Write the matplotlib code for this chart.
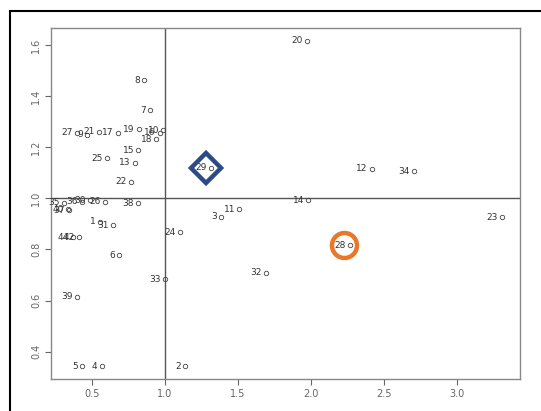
import matplotlib.pyplot as plt
from matplotlib.patches import Rectangle

# Punkter: nummer, x og y
nummer = [20, 8, 7, 19, 10, 16, 18, 27, 9, 21, 17, 15, 25, 13, 22,
          29, 12, 34, 14, 11, 3, 23, 24, 28, 32, 33, 6, 39, 5, 4, 2,
          38, 26, 30, 36, 35, 37, 40, 1, 31, 44, 42]
x_verdier = [1.974, 0.856, 0.898, 0.823, 0.988, 0.965, 0.941, 0.397, 0.470, 0.546, 0.676, 0.818, 0.603, 0.794, 0.768,
             1.317, 2.416, 2.704, 1.981, 1.508, 1.385, 3.307, 1.104, 2.267, 1.690, 1.000, 0.688, 0.397, 0.433, 0.567, 1.137,
             0.813, 0.589, 0.487, 0.435, 0.310, 0.345, 0.340, 0.558, 0.643, 0.370, 0.411]
y_verdier = [1.617, 1.462, 1.344, 1.270, 1.266, 1.257, 1.231, 1.257, 1.248, 1.261, 1.257, 1.189, 1.157, 1.140, 1.065,
             1.119, 1.115, 1.106, 0.992, 0.957, 0.927, 0.926, 0.868, 0.817, 0.708, 0.683, 0.777, 0.614, 0.343, 0.343, 0.343,
             0.980, 0.986, 0.993, 0.986, 0.983, 0.954, 0.958, 0.909, 0.894, 0.848, 0.847]

# Markerte punkter
ruter_x = [1.279]
ruter_y = [1.119]
ring_x = [2.225]
ring_y = [0.817]

x_ticks = [0.5, 1.0, 1.5, 2.0, 2.5, 3.0]
y_ticks = [0.4, 0.6, 0.8, 1.0, 1.2, 1.4, 1.6]

fig = plt.figure(figsize=(5.41, 4.11), dpi=100)
ax = fig.add_axes([0.0943, 0.078, 0.867, 0.854])

ax.axhline(1.0, color="#555555", lw=1.0, zorder=1)
ax.axvline(1.0, color="#555555", lw=1.0, zorder=1)

ax.plot(x_verdier, y_verdier, "o", mfc="none", mec="#444444", ms=3.2, mew=0.6, zorder=3)
for n, x, y in zip(nummer, x_verdier, y_verdier):
    ax.annotate(str(n), (x, y), xytext=(-3, 0), textcoords="offset points",
                ha="right", va="center", fontsize=6.5, color="#333333", zorder=4)

ax.plot(ruter_x, ruter_y, "D", mfc="none", mec="#2c4a86", ms=15, mew=3.2, zorder=5)
ax.plot(ring_x, ring_y, "o", mfc="none", mec="#e8782a", ms=18, mew=3.2, zorder=5)

ax.set_xlim(0.221, 3.429)
ax.set_ylim(0.293, 1.667)
ax.set_xticks(x_ticks)
ax.set_yticks(y_ticks)
ax.set_xticklabels([f"{t:.1f}" for t in x_ticks])
ax.set_yticklabels([f"{t:.1f}" for t in y_ticks], rotation=90, va="center")
ax.tick_params(labelsize=7, colors="#666666", length=4, width=0.8, pad=3)

for spine in ax.spines.values():
    spine.set_color("#888888")
    spine.set_linewidth(1.0)

# Ramme rundt hele figuren
fig.patches.append(Rectangle((9.5 / 541, -0.01), 1.0, 0.992 - 7.3 / 411 + 0.01,
                             transform=fig.transFigure, fill=False,
                             edgecolor="black", lw=1.5))

fig.savefig("out.png", dpi=100)
